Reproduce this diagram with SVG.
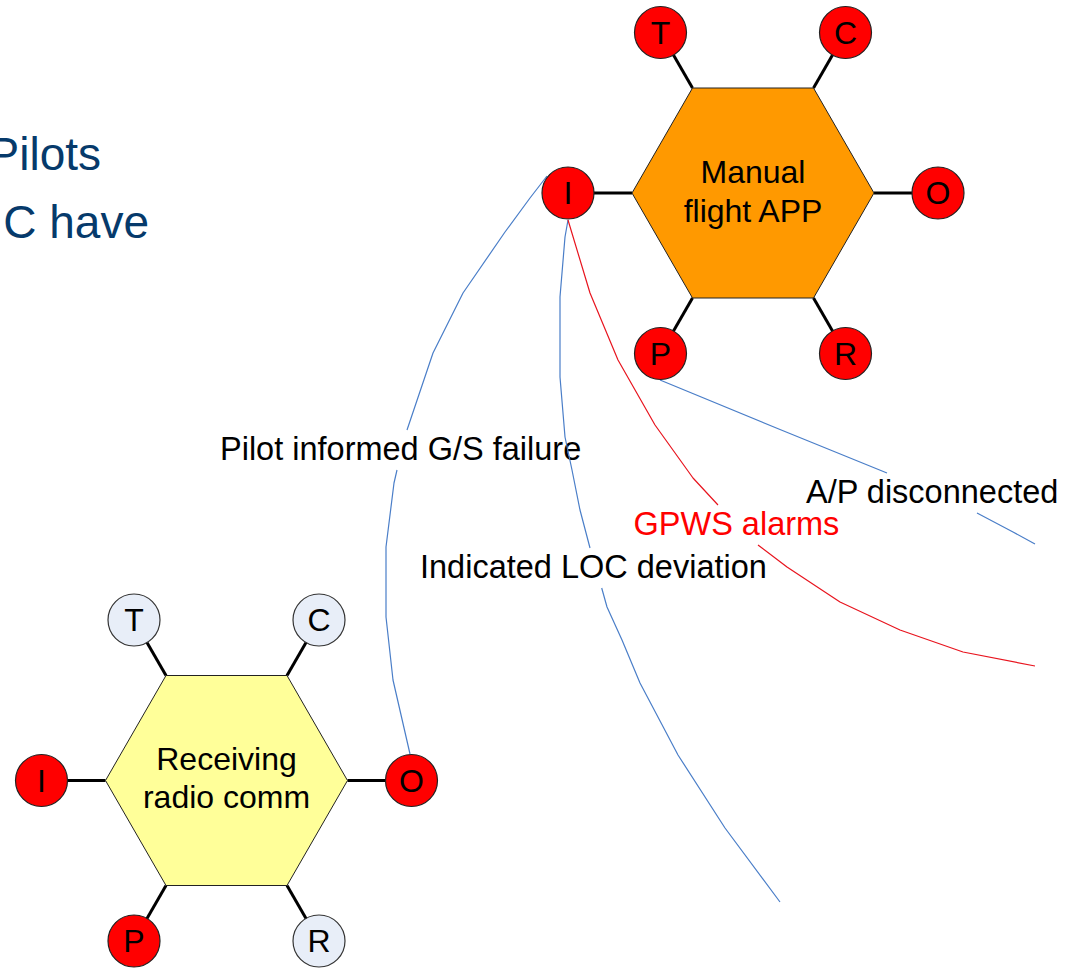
<svg xmlns="http://www.w3.org/2000/svg" width="1071" height="968" viewBox="0 0 1071 968">
<style>
text{font-family:"Liberation Sans",Arial,sans-serif}
.hexo{fill:#FF9900;stroke:#222;stroke-width:1}
.hexy{fill:#FFFF99;stroke:#222;stroke-width:1}
.pr{fill:#FF0000;stroke:#222;stroke-width:1.2}
.pl{fill:#E8EEF8;stroke:#333;stroke-width:1.2}
.pt{font-size:32px;fill:#000;text-anchor:middle}
.ht{font-size:32px;fill:#000;text-anchor:middle}
.spoke{stroke:#000;stroke-width:3;fill:none}
.lb{stroke:#4A7EC8;stroke-width:1.2;fill:none;stroke-linejoin:round}
.lr{stroke:#E8141E;stroke-width:1.2;fill:none;stroke-linejoin:round}
.lab{font-size:32.5px;fill:#000}
.title{font-size:46px;fill:#063A6B;text-anchor:end}
</style>
<rect width="1071" height="968" fill="#fff"/>
<g id="heading">
<text class="title" x="101" y="170">Pilots</text>
<text class="title" x="149" y="238">C have</text>
</g>
<g id="connectors">
<g id="spokes-top">
<line class="spoke" x1="692.5" y1="88" x2="660.5" y2="32.5"/>
<line class="spoke" x1="813.5" y1="88" x2="845.5" y2="32.5"/>
<line class="spoke" x1="632" y1="193" x2="568" y2="193"/>
<line class="spoke" x1="874" y1="193" x2="938" y2="193"/>
<line class="spoke" x1="692.5" y1="298" x2="660.5" y2="353.5"/>
<line class="spoke" x1="813.5" y1="298" x2="845.5" y2="353.5"/>
</g>
<g id="spokes-bottom">
<line class="spoke" x1="166" y1="675.5" x2="134" y2="620"/>
<line class="spoke" x1="287" y1="675.5" x2="319" y2="620"/>
<line class="spoke" x1="105.5" y1="780.5" x2="41.5" y2="780.5"/>
<line class="spoke" x1="347.5" y1="780.5" x2="411.5" y2="780.5"/>
<line class="spoke" x1="166" y1="885.5" x2="134" y2="941"/>
<line class="spoke" x1="287" y1="885.5" x2="319" y2="941"/>
</g>
<g id="link-gs-failure">
<polyline class="lb" points="547,176 530,198 505,232 463,293 433,353 407,430"/>
<polyline class="lb" points="397,470 394,483 386,547 386,617 393,680 410,754"/>
<text class="lab" x="220" y="459.5">Pilot informed G/S failure</text>
</g>
<g id="link-loc-deviation">
<polyline class="lb" points="568,220 565,237 560,297 560,377 565,437 572,470 580,510 590,548"/>
<polyline class="lb" points="601.7,588 607,607 622,640 640,683 678,755 725,828 780,902"/>
<text class="lab" x="420" y="577.5">Indicated LOC deviation</text>
</g>
<g id="link-gpws">
<polyline class="lr" points="568,220 590,293 618,360 655,425 693,478 718,505"/>
<polyline class="lr" points="758,545 787,567 840,602 900,630 963,652 1035,666"/>
<text class="lab" x="633.5" y="534.5" style="fill:#FF0000">GPWS alarms</text>
</g>
<g id="link-ap">
<polyline class="lb" points="660,380 780,429.5 887,473"/>
<polyline class="lb" points="977,513 1013,532 1035,544"/>
<text class="lab" x="806" y="502.5">A/P disconnected</text>
</g>
</g>
<g id="node-manual-flight-app">
<polygon class="hexo" points="632,193 692.5,88 813.5,88 874,193 813.5,298 692.5,298"/>
<text class="ht" x="753" y="183">Manual</text>
<text class="ht" x="753" y="222">flight APP</text>
</g>
<g id="top-T"><circle class="pr" cx="660.5" cy="32.5" r="26"/><text class="pt" x="660.5" y="43.5">T</text></g>
<g id="top-C"><circle class="pr" cx="845.5" cy="32.5" r="26"/><text class="pt" x="845.5" y="43.5">C</text></g>
<g id="top-I"><circle class="pr" cx="568" cy="193" r="26"/><text class="pt" x="568" y="204">I</text></g>
<g id="top-O"><circle class="pr" cx="938" cy="193" r="26"/><text class="pt" x="938" y="204">O</text></g>
<g id="top-P"><circle class="pr" cx="660.5" cy="353.5" r="26"/><text class="pt" x="660.5" y="364.5">P</text></g>
<g id="top-R"><circle class="pr" cx="845.5" cy="353.5" r="26"/><text class="pt" x="845.5" y="364.5">R</text></g>
<g id="node-receiving-radio-comm">
<polygon class="hexy" points="105.5,780.5 166,675.5 287,675.5 347.5,780.5 287,885.5 166,885.5"/>
<text class="ht" x="226.5" y="770">Receiving</text>
<text class="ht" x="226.5" y="808">radio comm</text>
</g>
<g id="bot-T"><circle class="pl" cx="134" cy="620" r="26"/><text class="pt" x="134" y="631">T</text></g>
<g id="bot-C"><circle class="pl" cx="319" cy="620" r="26"/><text class="pt" x="319" y="631">C</text></g>
<g id="bot-I"><circle class="pr" cx="41.5" cy="780.5" r="26"/><text class="pt" x="41.5" y="791.5">I</text></g>
<g id="bot-O"><circle class="pr" cx="411.5" cy="780.5" r="26"/><text class="pt" x="411.5" y="791.5">O</text></g>
<g id="bot-P"><circle class="pr" cx="134" cy="941" r="26"/><text class="pt" x="134" y="952">P</text></g>
<g id="bot-R"><circle class="pl" cx="319" cy="941" r="26"/><text class="pt" x="319" y="952">R</text></g>
</svg>
